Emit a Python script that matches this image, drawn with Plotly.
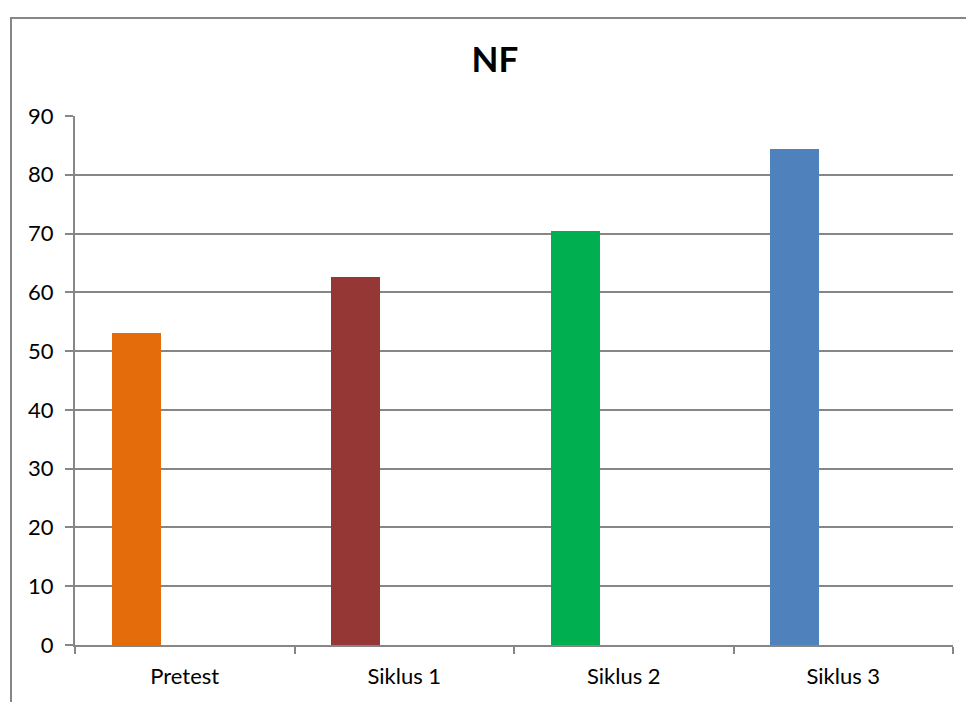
import plotly.graph_objects as go

# Chart data
categories = ["Pretest", "Siklus 1", "Siklus 2", "Siklus 3"]
values = [53.0, 62.6, 70.4, 84.4]
bar_colors = ["#E46C0A", "#953735", "#00B050", "#4F81BD"]
y_ticks = [0, 10, 20, 30, 40, 50, 60, 70, 80, 90]

W, H = 966, 702
ML, MR, MT, MB = 75, 13, 116, 57
plot_w = W - ML - MR
plot_h = H - MT - MB

AXIS_GREY = "#868686"
FONT = "Lato, 'Open Sans', sans-serif"
TICK_SIZE = 22

fig = go.Figure(
    go.Bar(
        x=categories,
        y=values,
        marker=dict(color=bar_colors, line=dict(width=0)),
        width=0.223,
        offset=-0.333,
        hoverinfo="x+y",
        showlegend=False,
    )
)

# Outer chart frame (extends past the right and bottom edges of the page)
fx0 = (11 - ML) / plot_w
fy1 = (H - MB - 18) / plot_h
fig.add_shape(
    type="rect", xref="paper", yref="paper",
    x0=fx0, x1=1.2, y0=-0.3, y1=fy1,
    line=dict(color=AXIS_GREY, width=2), fillcolor="rgba(0,0,0,0)",
    layer="below",
)

fig.update_layout(
    width=W, height=H,
    margin=dict(l=ML, r=MR, t=MT, b=MB),
    paper_bgcolor="white",
    plot_bgcolor="white",
    font=dict(family=FONT, color="#000000", size=TICK_SIZE),
    title=dict(
        text="<b>NF</b>",
        x=(495 - ML) / plot_w, xref="paper", xanchor="center",
        y=1 - 60 / H, yref="container", yanchor="middle",
        font=dict(family=FONT, size=35, color="#000000"),
    ),
    bargap=0,
)

fig.update_xaxes(
    type="category",
    range=[-0.5, 3.5],
    showline=True, linecolor=AXIS_GREY, linewidth=2,
    ticks="outside", tickson="boundaries", ticklen=7, tickwidth=2, tickcolor=AXIS_GREY,
    showgrid=False,
    tickfont=dict(family=FONT, size=TICK_SIZE, color="#000000"),
    ticklabelstandoff=11,
)
fig.update_yaxes(
    range=[0, 90],
    tickvals=y_ticks,
    showline=True, linecolor=AXIS_GREY, linewidth=2,
    ticks="outside", ticklen=8, tickwidth=2, tickcolor=AXIS_GREY,
    showgrid=True, gridcolor=AXIS_GREY, gridwidth=2,
    zeroline=False,
    tickfont=dict(family=FONT, size=TICK_SIZE, color="#000000"),
    ticklabelstandoff=7,
)

fig.write_html("out.html")
